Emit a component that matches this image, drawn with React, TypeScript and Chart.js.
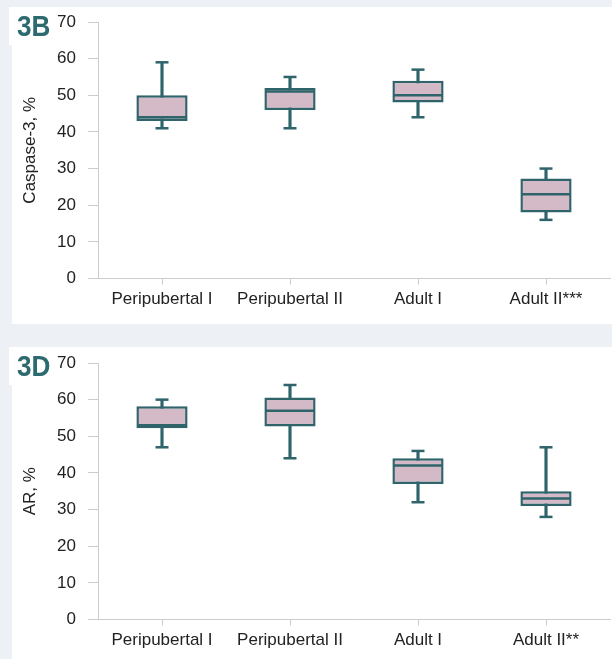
import React, { useEffect, useRef } from 'react';
import { Chart, registerables } from 'chart.js';
Chart.register(...registerables);

const categoriesB = ['Peripubertal I', 'Peripubertal II', 'Adult I', 'Adult II***'];
const minB = [41, 41, 44, 16];
const q1B = [43, 46, 48, 18];
const medB = [44, 51, 50, 23];
const q3B = [50, 52, 54, 27.3];
const maxB = [59, 55, 57, 30];

const categoriesD = ['Peripubertal I', 'Peripubertal II', 'Adult I', 'Adult II**'];
const minD = [47, 44, 32, 28];
const q1D = [52.2, 52.7, 37, 31];
const medD = [53, 57, 42, 33];
const q3D = [58.2, 60.6, 44, 35];
const maxD = [60, 64, 46, 47];

const yTicks = [0, 10, 20, 30, 40, 50, 60, 70];

const TEAL = '#2f646b';
const PINK = '#d3bac6';
const AXIS = '#cccccc';
const TEXT = '#222222';
const FONT = "'Liberation Sans', Arial, sans-serif";

type PanelProps = {
  label: string;
  yTitle: string;
  categories: string[];
  mins: number[];
  q1s: number[];
  meds: number[];
  q3s: number[];
  maxs: number[];
  top: number;
  height: number;
  padTop: number;
  xHeight: number;
};

function BoxPanel(p: PanelProps) {
  const ref = useRef<HTMLCanvasElement | null>(null);
  useEffect(() => {
    if (!ref.current) return;
    const chart = new Chart(ref.current, {
      type: 'bar',
      data: {
        labels: p.categories,
        datasets: [
          {
            type: 'line',
            data: p.meds,
            showLine: false,
            pointStyle: 'line',
            pointRadius: 25,
            pointBorderWidth: 2.5,
            pointBorderColor: TEAL,
            pointBackgroundColor: TEAL,
            clip: false,
            order: 0,
          } as any,
          {
            type: 'line',
            data: p.maxs,
            showLine: false,
            pointStyle: 'line',
            pointRadius: 6.5,
            pointBorderWidth: 2.5,
            pointBorderColor: TEAL,
            clip: false,
            order: 1,
          } as any,
          {
            type: 'line',
            data: p.mins,
            showLine: false,
            pointStyle: 'line',
            pointRadius: 6.5,
            pointBorderWidth: 2.5,
            pointBorderColor: TEAL,
            clip: false,
            order: 1,
          } as any,
          {
            type: 'bar',
            data: p.q1s.map((v, i) => [v, p.q3s[i]]),
            backgroundColor: PINK,
            borderColor: TEAL,
            borderWidth: 2.5,
            borderSkipped: false,
            grouped: false,
            categoryPercentage: 1,
            barPercentage: 0.4,
            order: 2,
          } as any,
          {
            type: 'bar',
            data: p.mins.map((v, i) => [v, p.maxs[i]]),
            backgroundColor: TEAL,
            borderWidth: 0,
            grouped: false,
            barThickness: 2.5,
            order: 3,
          } as any,
        ],
      },
      options: {
        animation: false,
        responsive: true,
        maintainAspectRatio: false,
        events: [],
        layout: { autoPadding: false, padding: { top: p.padTop, right: 2, left: 0, bottom: 0 } },
        plugins: { legend: { display: false }, tooltip: { enabled: false } },
        scales: {
          x: {
            type: 'category',
            offset: true,
            grid: { offset: false, drawOnChartArea: false, drawTicks: true, tickLength: 6, color: AXIS },
            border: { display: true, color: AXIS, width: 1 },
            ticks: { color: TEXT, font: { family: FONT, size: 17 }, padding: 5, maxRotation: 0 },
            afterFit: (s: any) => {
              s.height = p.xHeight;
              s.paddingTop = 0;
              s.paddingBottom = 0;
              s.paddingLeft = 0;
              s.paddingRight = 0;
            },
          },
          y: {
            min: 0,
            max: 70,
            grid: { drawOnChartArea: false, drawTicks: true, tickLength: 10, color: AXIS },
            border: { display: true, color: AXIS, width: 1 },
            ticks: { color: TEXT, font: { family: FONT, size: 17 }, padding: 12 },
            afterBuildTicks: (s: any) => { s.ticks = yTicks.map((v) => ({ value: v })); },
            title: {
              display: true,
              text: p.yTitle,
              color: TEXT,
              font: { family: FONT, size: 17 },
              padding: { top: 8, bottom: 0 },
            },
            afterFit: (s: any) => {
              s.width = 86;
              s.paddingTop = 0;
              s.paddingBottom = 0;
              s.paddingLeft = 0;
              s.paddingRight = 0;
            },
          },
        },
      },
    });
    return () => chart.destroy();
  }, []);

  return (
    <div style={{ position: 'absolute', left: 12, top: p.top, width: 600, height: p.height, background: '#ffffff' }}>
      <div style={{ position: 'absolute', left: 0, top: 0, width: 600, height: p.height }}>
        <canvas ref={ref} />
      </div>
      <div
        style={{
          position: 'absolute',
          left: -3,
          top: 0,
          width: 41,
          height: 38,
          background: '#ffffff',
        }}
      >
        <div
          style={{
            position: 'absolute',
            left: 8,
            top: 0,
            color: '#2d6a70',
            fontFamily: FONT,
            fontWeight: 'bold',
            fontSize: 30,
            lineHeight: '38px',
            transform: 'scaleX(0.87)',
            transformOrigin: 'left center',
            whiteSpace: 'nowrap',
          }}
        >
          {p.label}
        </div>
      </div>
    </div>
  );
}

export default function App() {
  return (
    <div style={{ position: 'fixed', left: 0, top: 0, width: 612, height: 659, background: '#edf1f5', overflow: 'hidden' }}>
      <BoxPanel
        label="3B"
        yTitle="Caspase-3, %"
        categories={categoriesB}
        mins={minB}
        q1s={q1B}
        meds={medB}
        q3s={q3B}
        maxs={maxB}
        top={7}
        height={317}
        padTop={15}
        xHeight={45.5}
      />
      <BoxPanel
        label="3D"
        yTitle="AR, %"
        categories={categoriesD}
        mins={minD}
        q1s={q1D}
        meds={medD}
        q3s={q3D}
        maxs={maxD}
        top={347}
        height={312}
        padTop={16}
        xHeight={39.5}
      />
    </div>
  );
}
